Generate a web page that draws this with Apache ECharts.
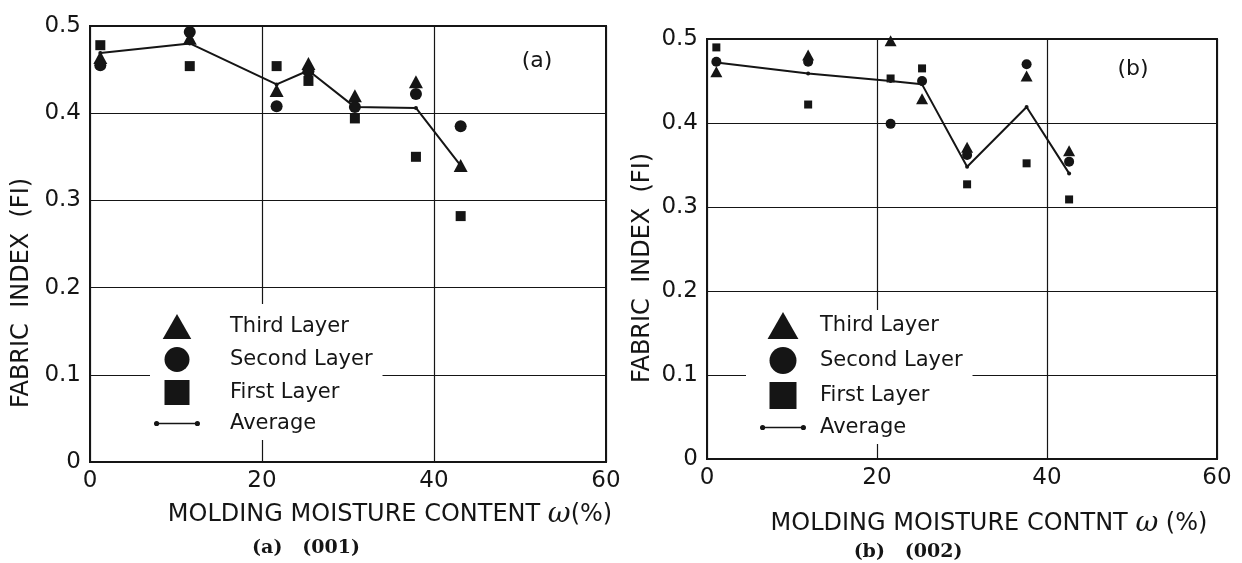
<!DOCTYPE html>
<html lang="en">
<head>
    <meta charset="UTF-8">
    <script src="https://cdn.jsdelivr.net/npm/echarts@6/dist/echarts.min.js"></script>
    <style>
        html, body { margin: 0; padding: 0; background: #fff; }
        #chart { width: 1242px; height: 563px; }
    </style>
</head>
<body>
    <div id="chart"></div>
    <script>
        // moisture content w (%) for each specimen
        const xA = [1.2, 11.6, 21.7, 25.4, 30.8, 37.9, 43.1];
        const thirdA = [0.464, 0.486, 0.426, 0.457, 0.420, 0.436, 0.340];
        const secondA = [0.455, 0.493, 0.408, 0.448, 0.407, 0.422, 0.385];
        const firstA = [0.478, 0.454, 0.454, 0.437, 0.394, 0.350, 0.282];
        const avgA = [0.469, 0.480, 0.433, 0.449, 0.407, 0.406, 0.340];

        const xB = [1.1, 11.9, 21.6, 25.3, 30.6, 37.6, 42.6];
        const thirdB = [0.461, 0.481, 0.498, 0.429, 0.371, 0.456, 0.367];
        const secondB = [0.473, 0.473, 0.399, 0.450, 0.362, 0.470, 0.354];
        const firstB = [0.490, 0.422, 0.453, 0.465, 0.327, 0.352, 0.309];
        const avgB = [0.472, 0.459, 0.450, 0.446, 0.348, 0.419, 0.340];

        const xTicks = [0, 20, 40, 60];
        const yTicks = [0, 0.1, 0.2, 0.3, 0.4, 0.5];
        const legendNames = ['Third Layer', 'Second Layer', 'First Layer', 'Average'];

        const ink = '#151515';
        const sans = "'DejaVu Sans', sans-serif";

        const pairs = (xs, ys) => xs.map((x, i) => [x, ys[i]]);

        const icons = {
            tri: 'path://M12,0 L24,21 L0,21 Z',
            circ: 'path://M0,12 A12,12 0 1,1 24,12 A12,12 0 1,1 0,12 Z',
            sq: 'path://M0,0 L22,0 L22,22 L0,22 Z',
            avg: 'path://M0,3 A2.6,2.6 0 1,1 5.2,3 A2.6,2.6 0 1,1 0,3 Z M40.8,3 A2.6,2.6 0 1,1 46,3 A2.6,2.6 0 1,1 40.8,3 Z M2.6,2.2 L43.4,2.2 L43.4,3.8 L2.6,3.8 Z'
        };

        function xAxisFor(idx, label, gap, shift) {
            return {
                type: 'value', gridIndex: idx, min: 0, max: 60, interval: 20,
                axisLine: { show: true, lineStyle: { color: ink, width: 2 } },
                axisTick: { show: false },
                axisLabel: { color: ink, fontSize: 23, fontFamily: sans, margin: 8,
                    formatter: v => xTicks.includes(v) ? String(v) : '' },
                splitLine: { show: true, lineStyle: { color: ink, width: 1.2 } },
                name: label, nameLocation: 'middle', nameGap: gap,
                nameTextStyle: { color: ink, fontSize: 24, fontFamily: sans, padding: [0, 0, 0, shift],
                    rich: { w: { fontFamily: "'DejaVu Serif', serif", fontStyle: 'italic', fontSize: 28, color: ink } } }
            };
        }

        function yAxisFor(idx, gap, shift) {
            return {
                type: 'value', gridIndex: idx, min: 0, max: 0.5, interval: 0.1,
                axisLine: { show: true, lineStyle: { color: ink, width: 2 } },
                axisTick: { show: false },
                axisLabel: { color: ink, fontSize: 23, fontFamily: sans, margin: 9,
                    formatter: v => String(yTicks.find(t => Math.abs(t - v) < 1e-6) ?? '') },
                splitLine: { show: true, lineStyle: { color: ink, width: 1.2 } },
                name: 'FABRIC  INDEX  (FI)', nameLocation: 'middle', nameRotate: 90, nameGap: gap,
                nameTextStyle: { color: ink, fontSize: 24, fontFamily: sans, padding: [0, shift, 0, 0] }
            };
        }

        function seriesFor(idx, xs, third, second, first, avg, s) {
            const dot = { color: ink, opacity: 1 };
            return [
                { name: 'Average', type: 'line', xAxisIndex: idx, yAxisIndex: idx, data: pairs(xs, avg),
                  symbol: 'circle', symbolSize: 4, lineStyle: { color: ink, width: 2 }, itemStyle: dot, z: 2 },
                { name: 'Third Layer', type: 'scatter', xAxisIndex: idx, yAxisIndex: idx, data: pairs(xs, third),
                  symbol: 'triangle', symbolSize: [s, s - 1], itemStyle: dot, z: 3 },
                { name: 'Second Layer', type: 'scatter', xAxisIndex: idx, yAxisIndex: idx, data: pairs(xs, second),
                  symbol: 'circle', symbolSize: s - 2, itemStyle: dot, z: 3 },
                { name: 'First Layer', type: 'scatter', xAxisIndex: idx, yAxisIndex: idx, data: pairs(xs, first),
                  symbol: 'rect', symbolSize: s - 4, itemStyle: dot, z: 3 }
            ];
        }

        function legendFor(left, top, pad, h, gap, textPad) {
            return {
                orient: 'vertical', left: left, top: top, padding: pad,
                backgroundColor: '#fff', itemWidth: 46, itemHeight: h, itemGap: gap,
                symbolKeepAspect: true, selectedMode: false,
                textStyle: { color: ink, fontSize: 21, fontFamily: sans, padding: [0, 0, 0, textPad] },
                data: [
                    { name: legendNames[0], icon: icons.tri },
                    { name: legendNames[1], icon: icons.circ },
                    { name: legendNames[2], icon: icons.sq },
                    { name: legendNames[3], icon: icons.avg }
                ]
            };
        }

        const myChart = echarts.init(document.getElementById('chart'));
        myChart.setOption({
            backgroundColor: '#fff',
            animation: false,
            grid: [
                { left: 90, top: 26, width: 516, height: 436, show: true, borderColor: ink, borderWidth: 2 },
                { left: 707, top: 39, width: 510, height: 420, show: true, borderColor: ink, borderWidth: 2 }
            ],
            xAxis: [
                xAxisFor(0, 'MOLDING MOISTURE CONTENT {w|ω}(%)', 39, 84),
                xAxisFor(1, 'MOLDING MOISTURE CONTNT {w|ω} (%)', 51, 54)
            ],
            yAxis: [
                yAxisFor(0, 56, 98),
                yAxisFor(1, 52, 38)
            ],
            legend: [
                legendFor(150, 304, [10, 10, 6, 4], 25, 8, 25),
                legendFor(746, 310, [2, 10, 6, 14], 27, 8, 9)
            ],
            title: [
                { text: '(a)', left: 532, top: 45, textAlign: 'center',
                  textStyle: { color: ink, fontSize: 22, fontWeight: 'normal', fontFamily: sans } },
                { text: '(b)', left: 1128, top: 53, textAlign: 'center',
                  textStyle: { color: ink, fontSize: 22, fontWeight: 'normal', fontFamily: sans } },
                { text: '(a)   (001)', left: 301, top: 534, textAlign: 'center',
                  textStyle: { color: ink, fontSize: 19, fontWeight: 'bold', fontFamily: "'DejaVu Serif', serif" } },
                { text: '(b)   (002)', left: 903, top: 538, textAlign: 'center',
                  textStyle: { color: ink, fontSize: 19, fontWeight: 'bold', fontFamily: "'DejaVu Serif', serif" } }
            ],
            series: [
                ...seriesFor(0, xA, thirdA, secondA, firstA, avgA, 14),
                ...seriesFor(1, xB, thirdB, secondB, firstB, avgB, 12)
            ]
        });
    </script>
</body>
</html>
